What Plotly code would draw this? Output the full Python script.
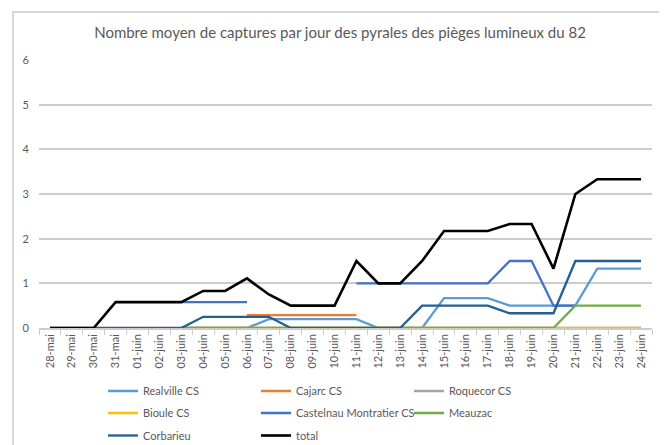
import plotly.graph_objects as go

dates = ["28-mai", "29-mai", "30-mai", "31-mai", "01-juin", "02-juin", "03-juin",
         "04-juin", "05-juin", "06-juin", "07-juin", "08-juin", "09-juin", "10-juin",
         "11-juin", "12-juin", "13-juin", "14-juin", "15-juin", "16-juin", "17-juin",
         "18-juin", "19-juin", "20-juin", "21-juin", "22-juin", "23-juin", "24-juin"]

N = None
realville = [N, N, N, N, N, N, 0, 0, 0, 0, 0.2, 0.2, 0.2, 0.2, 0.2, 0, 0, 0,
             0.67, 0.67, 0.67, 0.5, 0.5, 0.5, 0.5, 1.33, 1.33, 1.33]
cajarc = [N, N, N, N, N, N, N, N, N, 0.29, 0.29, 0.29, 0.29, 0.29, 0.29, N, N, N,
          N, N, N, N, N, N, N, N, N, N]
roquecor = [N, N, N, N, N, N, 0, 0, 0, 0, 0, 0, 0, 0, 0, 0, 0, 0,
            0, 0, 0, 0, 0, 0, 0, 0, 0, 0]
bioule = [N, N, N, N, N, N, 0, 0, 0, 0, 0, 0, 0, 0, 0, 0, 0, 0,
          0, 0, 0, 0, 0, 0, 0, 0, 0, 0]
castelnau = [N, N, N, N, N, N, 0.58, 0.58, 0.58, 0.58, N, N, N, N, 1, 1, 1, 1,
             1, 1, 1, 1.5, 1.5, 0.5, 0.5, N, N, N]
meauzac = [N, N, N, N, N, N, 0, 0, 0, 0, 0, 0, 0, 0, 0, 0, 0, 0,
           0, 0, 0, 0, 0, 0, 0.5, 0.5, 0.5, 0.5]
corbarieu = [0, 0, 0, 0, 0, 0, 0, 0.25, 0.25, 0.25, 0.25, 0, 0, 0, 0, 0, 0, 0.5,
             0.5, 0.5, 0.5, 0.33, 0.33, 0.33, 1.5, 1.5, 1.5, 1.5]
total = [0, 0, 0, 0.58, 0.58, 0.58, 0.58, 0.83, 0.83, 1.11, 0.75, 0.5, 0.5, 0.5,
         1.5, 1, 1, 1.5, 2.17, 2.17, 2.17, 2.33, 2.33, 1.33, 3, 3.33, 3.33, 3.33]

series = [
    ("Realville CS", realville, "#5B9BD5", "legend"),
    ("Cajarc CS", cajarc, "#ED7D31", "legend"),
    ("Roquecor CS", roquecor, "#A5A5A5", "legend"),
    ("Bioule CS", bioule, "#FFC000", "legend2"),
    ("Castelnau Montratier CS", castelnau, "#4472C4", "legend2"),
    ("Meauzac", meauzac, "#70AD47", "legend2"),
    ("Corbarieu", corbarieu, "#255E91", "legend3"),
    ("total", total, "#000000", "legend3"),
]

FONT = "Lato"
GREY = "#595959"
LIGHT = "#cccccc"

fig = go.Figure()
for name, vals, color, leg in series:
    fig.add_trace(go.Scatter(
        x=dates, y=vals, name=name, mode="lines",
        line=dict(color=color, width=2.6 if name == "total" else 2.3),
        connectgaps=False, legend=leg,
    ))

# page offset of the figure inside the html body (default 8px body margin)
OFF = 8
W, H = 667 - OFF, 445 - OFF
ml, mr, mt, mb = 39 - OFF, 15, 60 - OFF, 117
pw, ph = W - ml - mr, H - mt - mb

def py_paper(page_y):
    return (H - mb - (page_y - OFF)) / ph

def px_paper(page_x):
    return ((page_x - OFF) - ml) / pw

leg_common = dict(orientation="h", entrywidth=108, entrywidthmode="pixels",
                  font=dict(family=FONT, size=11, color=GREY),
                  bgcolor="rgba(0,0,0,0)", xanchor="left", yanchor="middle",
                  x=px_paper(103), itemwidth=30, traceorder="normal")

fig.update_layout(
    width=W, height=H,
    margin=dict(l=ml, r=mr, t=mt, b=mb, autoexpand=False),
    paper_bgcolor="white", plot_bgcolor="white",
    title=dict(text="Nombre moyen de captures par jour des pyrales des pièges lumineux du 82",
               font=dict(family=FONT, size=15, color=GREY),
               x=(340 - OFF) / W, xanchor="center", xref="container",
               y=1 - (33 - OFF) / H, yanchor="middle", yref="container"),
    font=dict(family=FONT, color=GREY),
    xaxis=dict(type="category", tickangle=-90, tickfont=dict(family=FONT, size=11, color=GREY),
               showgrid=False, showline=True, linecolor=LIGHT, linewidth=1.5,
               ticks="outside", tickson="boundaries", ticklen=5, tickcolor=LIGHT, tickwidth=1.2,
               zeroline=False, range=[-0.5, len(dates) - 0.5]),
    yaxis=dict(range=[0, 6], dtick=1, tickfont=dict(family=FONT, size=11, color=GREY),
               showgrid=True, gridcolor=LIGHT, gridwidth=1.5, zeroline=False,
               showline=False, ticks="", ticklabelstandoff=9),
    legend=dict(**leg_common, y=py_paper(391)),
    legend2=dict(**leg_common, y=py_paper(413)),
    legend3=dict(**leg_common, y=py_paper(435.5)),
    shapes=[dict(type="rect", xref="paper", yref="paper",
                 x0=px_paper(13), x1=px_paper(664), y0=py_paper(470), y1=py_paper(12),
                 line=dict(color=LIGHT, width=1.5), fillcolor="rgba(0,0,0,0)", layer="below")],
    showlegend=True,
)

fig.write_html("out.html")
